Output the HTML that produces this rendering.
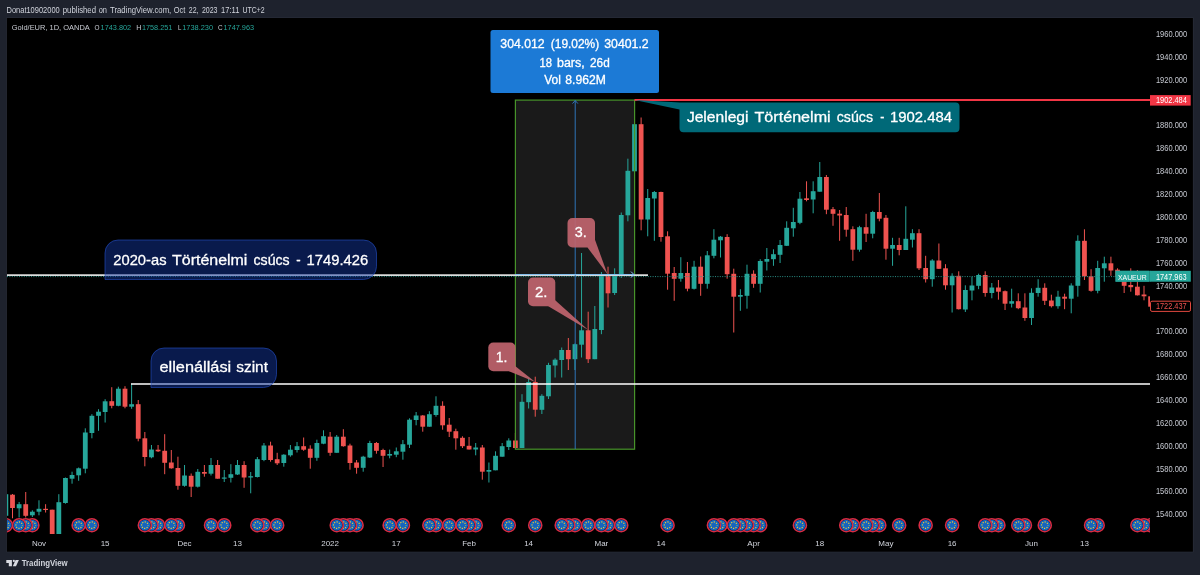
<!DOCTYPE html>
<html lang="hu"><head><meta charset="utf-8"><title>Gold/EUR chart</title>
<style>html,body{margin:0;padding:0;background:#1e222d;}body{width:1200px;height:575px;overflow:hidden;font-family:"Liberation Sans", "DejaVu Sans", sans-serif;}svg{display:block;}text{font-family:"Liberation Sans", "DejaVu Sans", sans-serif;}</style></head><body>
<svg width="1200" height="575" viewBox="0 0 1200 575">
<defs><clipPath id="pane"><rect x="7" y="18" width="1143" height="516"/></clipPath>
</defs>
<rect x="0" y="0" width="1200" height="575" fill="#1e222d"/>
<rect x="6.3" y="17.4" width="1187.2" height="534.9" fill="#2a2e3a"/>
<rect x="6.9" y="18" width="1186" height="533.7" fill="#000"/>
<text y="12.8" font-size="8.6" fill="#d1d4dc"><tspan x="6.50" textLength="53.25" lengthAdjust="spacingAndGlyphs">Donat10902000</tspan> <tspan x="62.75" textLength="33.25" lengthAdjust="spacingAndGlyphs">published</tspan> <tspan x="98.75" textLength="8.25" lengthAdjust="spacingAndGlyphs">on</tspan> <tspan x="110.00" textLength="61.25" lengthAdjust="spacingAndGlyphs">TradingView.com,</tspan> <tspan x="173.75" textLength="11.65" lengthAdjust="spacingAndGlyphs">Oct</tspan> <tspan x="188.75" textLength="9.75" lengthAdjust="spacingAndGlyphs">22,</tspan> <tspan x="201.90" textLength="15.60" lengthAdjust="spacingAndGlyphs">2023</tspan> <tspan x="221.00" textLength="18.40" lengthAdjust="spacingAndGlyphs">17:11</tspan> <tspan x="242.50" textLength="22.25" lengthAdjust="spacingAndGlyphs">UTC+2</tspan></text>
<text x="11.8" y="30.0" font-size="8" fill="#c9ccd3" textLength="78.0" lengthAdjust="spacingAndGlyphs">Gold/EUR, 1D, OANDA</text>
<text x="94.6" y="30.0" font-size="8" fill="#c9ccd3" textLength="5.0" lengthAdjust="spacingAndGlyphs">O</text>
<text x="100.6" y="30.0" font-size="8" fill="#26a69a" textLength="30.6" lengthAdjust="spacingAndGlyphs">1743.802</text>
<text x="136.2" y="30.0" font-size="8" fill="#c9ccd3" textLength="5.2" lengthAdjust="spacingAndGlyphs">H</text>
<text x="141.9" y="30.0" font-size="8" fill="#26a69a" textLength="30.4" lengthAdjust="spacingAndGlyphs">1758.251</text>
<text x="178.1" y="30.0" font-size="8" fill="#c9ccd3" textLength="3.4" lengthAdjust="spacingAndGlyphs">L</text>
<text x="182.2" y="30.0" font-size="8" fill="#26a69a" textLength="30.9" lengthAdjust="spacingAndGlyphs">1738.230</text>
<text x="218.1" y="30.0" font-size="8" fill="#c9ccd3" textLength="4.6" lengthAdjust="spacingAndGlyphs">C</text>
<text x="223.5" y="30.0" font-size="8" fill="#26a69a" textLength="30.6" lengthAdjust="spacingAndGlyphs">1747.963</text>
<g clip-path="url(#pane)">
<rect x="515" y="100" width="119.5" height="349.2" fill="#1a1a1a"/>
<path d="M5.88 494.2V515.8" stroke="#26a69a" stroke-width="1" fill="none"/>
<rect x="3.48" y="494.2" width="4.8" height="21.6" fill="#26a69a"/>
<path d="M12.50 494.0V518.3" stroke="#ef5350" stroke-width="1" fill="none"/>
<rect x="10.10" y="494.7" width="4.8" height="13.3" fill="#ef5350"/>
<path d="M19.12 502.0V517.5" stroke="#26a69a" stroke-width="1" fill="none"/>
<rect x="16.72" y="504.2" width="4.8" height="4.1" fill="#26a69a"/>
<path d="M25.73 492.0V517.5" stroke="#ef5350" stroke-width="1" fill="none"/>
<rect x="23.33" y="504.2" width="4.8" height="11.6" fill="#ef5350"/>
<path d="M32.35 510.3V517.0" stroke="#26a69a" stroke-width="1" fill="none"/>
<rect x="29.95" y="511.7" width="4.8" height="3.6" fill="#26a69a"/>
<path d="M38.97 500.3V515.3" stroke="#26a69a" stroke-width="1" fill="none"/>
<rect x="36.57" y="508.8" width="4.8" height="2.9" fill="#26a69a"/>
<path d="M45.59 504.2V512.5" stroke="#ef5350" stroke-width="1" fill="none"/>
<rect x="43.19" y="508.8" width="4.8" height="1.2" fill="#ef5350"/>
<path d="M52.20 509.7V540.0" stroke="#ef5350" stroke-width="1" fill="none"/>
<rect x="49.80" y="509.7" width="4.8" height="30.3" fill="#ef5350"/>
<path d="M58.82 494.2V540.0" stroke="#26a69a" stroke-width="1" fill="none"/>
<rect x="56.42" y="502.2" width="4.8" height="37.8" fill="#26a69a"/>
<path d="M65.44 477.5V503.7" stroke="#26a69a" stroke-width="1" fill="none"/>
<rect x="63.04" y="478.0" width="4.8" height="25.0" fill="#26a69a"/>
<path d="M72.05 471.7V483.7" stroke="#26a69a" stroke-width="1" fill="none"/>
<rect x="69.65" y="475.0" width="4.8" height="3.7" fill="#26a69a"/>
<path d="M78.67 467.5V480.8" stroke="#26a69a" stroke-width="1" fill="none"/>
<rect x="76.27" y="468.3" width="4.8" height="7.0" fill="#26a69a"/>
<path d="M85.29 428.3V473.3" stroke="#26a69a" stroke-width="1" fill="none"/>
<rect x="82.89" y="432.5" width="4.8" height="36.2" fill="#26a69a"/>
<path d="M91.90 414.2V438.3" stroke="#26a69a" stroke-width="1" fill="none"/>
<rect x="89.50" y="415.8" width="4.8" height="17.2" fill="#26a69a"/>
<path d="M98.52 409.2V430.8" stroke="#26a69a" stroke-width="1" fill="none"/>
<rect x="96.12" y="411.7" width="4.8" height="4.1" fill="#26a69a"/>
<path d="M105.14 399.2V422.5" stroke="#26a69a" stroke-width="1" fill="none"/>
<rect x="102.74" y="401.3" width="4.8" height="10.7" fill="#26a69a"/>
<path d="M111.75 387.2V408.3" stroke="#ef5350" stroke-width="1" fill="none"/>
<rect x="109.35" y="401.2" width="4.8" height="4.6" fill="#ef5350"/>
<path d="M118.37 386.7V406.3" stroke="#26a69a" stroke-width="1" fill="none"/>
<rect x="115.97" y="388.7" width="4.8" height="17.1" fill="#26a69a"/>
<path d="M124.99 386.2V408.3" stroke="#ef5350" stroke-width="1" fill="none"/>
<rect x="122.59" y="388.7" width="4.8" height="18.0" fill="#ef5350"/>
<path d="M131.61 383.7V408.8" stroke="#26a69a" stroke-width="1" fill="none"/>
<rect x="129.21" y="404.2" width="4.8" height="2.5" fill="#26a69a"/>
<path d="M138.22 400.0V441.3" stroke="#ef5350" stroke-width="1" fill="none"/>
<rect x="135.82" y="404.2" width="4.8" height="34.5" fill="#ef5350"/>
<path d="M144.84 432.0V466.3" stroke="#ef5350" stroke-width="1" fill="none"/>
<rect x="142.44" y="438.3" width="4.8" height="18.7" fill="#ef5350"/>
<path d="M151.46 445.0V458.3" stroke="#26a69a" stroke-width="1" fill="none"/>
<rect x="149.06" y="449.5" width="4.8" height="7.8" fill="#26a69a"/>
<path d="M158.07 445.0V452.0" stroke="#ef5350" stroke-width="1" fill="none"/>
<rect x="155.67" y="449.7" width="4.8" height="1.6" fill="#ef5350"/>
<path d="M164.69 434.2V474.2" stroke="#ef5350" stroke-width="1" fill="none"/>
<rect x="162.29" y="450.8" width="4.8" height="12.0" fill="#ef5350"/>
<path d="M171.31 450.0V468.7" stroke="#ef5350" stroke-width="1" fill="none"/>
<rect x="168.91" y="462.5" width="4.8" height="5.8" fill="#ef5350"/>
<path d="M177.93 456.7V489.7" stroke="#ef5350" stroke-width="1" fill="none"/>
<rect x="175.53" y="468.0" width="4.8" height="17.8" fill="#ef5350"/>
<path d="M184.54 465.0V486.7" stroke="#26a69a" stroke-width="1" fill="none"/>
<rect x="182.14" y="475.5" width="4.8" height="10.3" fill="#26a69a"/>
<path d="M191.16 473.5V497.0" stroke="#ef5350" stroke-width="1" fill="none"/>
<rect x="188.76" y="475.8" width="4.8" height="10.9" fill="#ef5350"/>
<path d="M197.78 469.0V487.5" stroke="#26a69a" stroke-width="1" fill="none"/>
<rect x="195.38" y="471.8" width="4.8" height="14.9" fill="#26a69a"/>
<path d="M204.39 465.0V476.7" stroke="#ef5350" stroke-width="1" fill="none"/>
<rect x="201.99" y="472.0" width="4.8" height="1.7" fill="#ef5350"/>
<path d="M211.01 458.0V475.5" stroke="#26a69a" stroke-width="1" fill="none"/>
<rect x="208.61" y="465.0" width="4.8" height="8.7" fill="#26a69a"/>
<path d="M217.63 460.0V478.7" stroke="#ef5350" stroke-width="1" fill="none"/>
<rect x="215.23" y="465.0" width="4.8" height="13.7" fill="#ef5350"/>
<path d="M224.24 470.0V482.0" stroke="#26a69a" stroke-width="1" fill="none"/>
<rect x="221.84" y="477.5" width="4.8" height="1.2" fill="#26a69a"/>
<path d="M230.86 464.2V482.5" stroke="#26a69a" stroke-width="1" fill="none"/>
<rect x="228.46" y="474.2" width="4.8" height="3.6" fill="#26a69a"/>
<path d="M237.48 460.0V475.0" stroke="#26a69a" stroke-width="1" fill="none"/>
<rect x="235.08" y="465.0" width="4.8" height="9.5" fill="#26a69a"/>
<path d="M244.09 461.2V487.8" stroke="#ef5350" stroke-width="1" fill="none"/>
<rect x="241.69" y="465.0" width="4.8" height="12.5" fill="#ef5350"/>
<path d="M250.71 472.0V493.3" stroke="#26a69a" stroke-width="1" fill="none"/>
<rect x="248.31" y="476.2" width="4.8" height="1.3" fill="#26a69a"/>
<path d="M257.33 457.0V477.5" stroke="#26a69a" stroke-width="1" fill="none"/>
<rect x="254.93" y="459.2" width="4.8" height="17.8" fill="#26a69a"/>
<path d="M263.95 443.0V461.2" stroke="#26a69a" stroke-width="1" fill="none"/>
<rect x="261.55" y="445.5" width="4.8" height="14.5" fill="#26a69a"/>
<path d="M270.56 441.7V461.7" stroke="#ef5350" stroke-width="1" fill="none"/>
<rect x="268.16" y="445.5" width="4.8" height="14.5" fill="#ef5350"/>
<path d="M277.18 452.8V465.0" stroke="#ef5350" stroke-width="1" fill="none"/>
<rect x="274.78" y="459.2" width="4.8" height="4.1" fill="#ef5350"/>
<path d="M283.80 454.2V466.7" stroke="#26a69a" stroke-width="1" fill="none"/>
<rect x="281.40" y="454.7" width="4.8" height="8.3" fill="#26a69a"/>
<path d="M290.41 445.0V456.7" stroke="#26a69a" stroke-width="1" fill="none"/>
<rect x="288.01" y="449.7" width="4.8" height="5.6" fill="#26a69a"/>
<path d="M297.03 442.0V452.5" stroke="#26a69a" stroke-width="1" fill="none"/>
<rect x="294.63" y="446.2" width="4.8" height="3.8" fill="#26a69a"/>
<path d="M303.65 437.5V450.8" stroke="#ef5350" stroke-width="1" fill="none"/>
<rect x="301.25" y="446.2" width="4.8" height="3.5" fill="#ef5350"/>
<path d="M310.26 445.3V468.7" stroke="#ef5350" stroke-width="1" fill="none"/>
<rect x="307.87" y="448.7" width="4.8" height="9.1" fill="#ef5350"/>
<path d="M316.88 439.7V460.8" stroke="#26a69a" stroke-width="1" fill="none"/>
<rect x="314.48" y="443.0" width="4.8" height="14.8" fill="#26a69a"/>
<path d="M323.50 430.3V444.2" stroke="#26a69a" stroke-width="1" fill="none"/>
<rect x="321.10" y="436.2" width="4.8" height="7.5" fill="#26a69a"/>
<path d="M330.12 432.0V455.8" stroke="#ef5350" stroke-width="1" fill="none"/>
<rect x="327.72" y="436.7" width="4.8" height="16.1" fill="#ef5350"/>
<path d="M336.73 435.0V452.8" stroke="#26a69a" stroke-width="1" fill="none"/>
<rect x="334.33" y="436.7" width="4.8" height="16.1" fill="#26a69a"/>
<path d="M343.35 429.2V446.7" stroke="#ef5350" stroke-width="1" fill="none"/>
<rect x="340.95" y="436.7" width="4.8" height="9.5" fill="#ef5350"/>
<path d="M349.97 443.7V469.7" stroke="#ef5350" stroke-width="1" fill="none"/>
<rect x="347.57" y="445.5" width="4.8" height="17.5" fill="#ef5350"/>
<path d="M356.58 460.0V473.7" stroke="#ef5350" stroke-width="1" fill="none"/>
<rect x="354.18" y="462.5" width="4.8" height="5.3" fill="#ef5350"/>
<path d="M363.20 455.8V471.7" stroke="#26a69a" stroke-width="1" fill="none"/>
<rect x="360.80" y="456.7" width="4.8" height="11.1" fill="#26a69a"/>
<path d="M369.82 440.8V458.0" stroke="#26a69a" stroke-width="1" fill="none"/>
<rect x="367.42" y="443.0" width="4.8" height="14.5" fill="#26a69a"/>
<path d="M376.44 442.0V453.7" stroke="#ef5350" stroke-width="1" fill="none"/>
<rect x="374.04" y="443.0" width="4.8" height="7.8" fill="#ef5350"/>
<path d="M383.05 448.7V467.0" stroke="#ef5350" stroke-width="1" fill="none"/>
<rect x="380.65" y="450.0" width="4.8" height="5.8" fill="#ef5350"/>
<path d="M389.67 449.6V458.3" stroke="#26a69a" stroke-width="1" fill="none"/>
<rect x="387.27" y="454.0" width="4.8" height="1.6" fill="#26a69a"/>
<path d="M396.29 447.5V457.2" stroke="#26a69a" stroke-width="1" fill="none"/>
<rect x="393.89" y="451.3" width="4.8" height="3.4" fill="#26a69a"/>
<path d="M402.90 440.0V459.7" stroke="#26a69a" stroke-width="1" fill="none"/>
<rect x="400.50" y="444.2" width="4.8" height="7.5" fill="#26a69a"/>
<path d="M409.52 418.3V448.0" stroke="#26a69a" stroke-width="1" fill="none"/>
<rect x="407.12" y="419.7" width="4.8" height="25.0" fill="#26a69a"/>
<path d="M416.14 412.0V425.3" stroke="#26a69a" stroke-width="1" fill="none"/>
<rect x="413.74" y="415.5" width="4.8" height="4.5" fill="#26a69a"/>
<path d="M422.75 415.0V431.7" stroke="#ef5350" stroke-width="1" fill="none"/>
<rect x="420.35" y="415.5" width="4.8" height="11.2" fill="#ef5350"/>
<path d="M429.37 411.2V426.7" stroke="#26a69a" stroke-width="1" fill="none"/>
<rect x="426.97" y="414.2" width="4.8" height="12.5" fill="#26a69a"/>
<path d="M435.99 396.3V416.7" stroke="#26a69a" stroke-width="1" fill="none"/>
<rect x="433.59" y="405.8" width="4.8" height="9.2" fill="#26a69a"/>
<path d="M442.61 401.3V429.7" stroke="#ef5350" stroke-width="1" fill="none"/>
<rect x="440.21" y="405.8" width="4.8" height="19.5" fill="#ef5350"/>
<path d="M449.22 418.0V437.0" stroke="#ef5350" stroke-width="1" fill="none"/>
<rect x="446.82" y="424.7" width="4.8" height="7.0" fill="#ef5350"/>
<path d="M455.84 428.7V449.7" stroke="#ef5350" stroke-width="1" fill="none"/>
<rect x="453.44" y="431.2" width="4.8" height="7.1" fill="#ef5350"/>
<path d="M462.46 436.3V448.0" stroke="#ef5350" stroke-width="1" fill="none"/>
<rect x="460.06" y="437.8" width="4.8" height="8.4" fill="#ef5350"/>
<path d="M469.07 437.0V449.5" stroke="#ef5350" stroke-width="1" fill="none"/>
<rect x="466.67" y="445.8" width="4.8" height="3.7" fill="#ef5350"/>
<path d="M475.69 443.0V455.3" stroke="#26a69a" stroke-width="1" fill="none"/>
<rect x="473.29" y="447.5" width="4.8" height="2.0" fill="#26a69a"/>
<path d="M482.31 445.0V479.7" stroke="#ef5350" stroke-width="1" fill="none"/>
<rect x="479.91" y="447.5" width="4.8" height="24.2" fill="#ef5350"/>
<path d="M488.92 462.5V482.5" stroke="#26a69a" stroke-width="1" fill="none"/>
<rect x="486.52" y="470.0" width="4.8" height="1.7" fill="#26a69a"/>
<path d="M495.54 451.3V470.3" stroke="#26a69a" stroke-width="1" fill="none"/>
<rect x="493.14" y="455.8" width="4.8" height="14.5" fill="#26a69a"/>
<path d="M502.16 443.0V456.7" stroke="#26a69a" stroke-width="1" fill="none"/>
<rect x="499.76" y="446.2" width="4.8" height="10.5" fill="#26a69a"/>
<path d="M508.77 438.3V450.0" stroke="#26a69a" stroke-width="1" fill="none"/>
<rect x="506.38" y="440.5" width="4.8" height="6.5" fill="#26a69a"/>
<path d="M515.39 433.0V448.0" stroke="#ef5350" stroke-width="1" fill="none"/>
<rect x="512.99" y="440.5" width="4.8" height="7.5" fill="#ef5350"/>
<path d="M522.01 394.2V448.0" stroke="#26a69a" stroke-width="1" fill="none"/>
<rect x="519.61" y="401.8" width="4.8" height="46.2" fill="#26a69a"/>
<path d="M528.63 378.7V408.5" stroke="#26a69a" stroke-width="1" fill="none"/>
<rect x="526.23" y="382.0" width="4.8" height="20.2" fill="#26a69a"/>
<path d="M535.24 376.7V416.7" stroke="#ef5350" stroke-width="1" fill="none"/>
<rect x="532.84" y="382.0" width="4.8" height="27.7" fill="#ef5350"/>
<path d="M541.86 394.2V414.0" stroke="#26a69a" stroke-width="1" fill="none"/>
<rect x="539.46" y="395.8" width="4.8" height="14.0" fill="#26a69a"/>
<path d="M548.48 362.8V399.0" stroke="#26a69a" stroke-width="1" fill="none"/>
<rect x="546.08" y="365.0" width="4.8" height="31.3" fill="#26a69a"/>
<path d="M555.09 358.3V377.5" stroke="#26a69a" stroke-width="1" fill="none"/>
<rect x="552.69" y="359.7" width="4.8" height="5.8" fill="#26a69a"/>
<path d="M561.71 347.5V377.5" stroke="#26a69a" stroke-width="1" fill="none"/>
<rect x="559.31" y="350.0" width="4.8" height="10.0" fill="#26a69a"/>
<path d="M568.33 338.0V370.0" stroke="#ef5350" stroke-width="1" fill="none"/>
<rect x="565.93" y="350.0" width="4.8" height="9.2" fill="#ef5350"/>
<path d="M574.95 343.5V370.0" stroke="#26a69a" stroke-width="1" fill="none"/>
<rect x="572.55" y="344.2" width="4.8" height="15.0" fill="#26a69a"/>
<path d="M581.56 253.0V357.5" stroke="#26a69a" stroke-width="1" fill="none"/>
<rect x="579.16" y="330.3" width="4.8" height="14.4" fill="#26a69a"/>
<path d="M588.18 311.7V363.0" stroke="#ef5350" stroke-width="1" fill="none"/>
<rect x="585.78" y="330.3" width="4.8" height="28.9" fill="#ef5350"/>
<path d="M594.80 306.0V359.2" stroke="#26a69a" stroke-width="1" fill="none"/>
<rect x="592.40" y="329.0" width="4.8" height="30.2" fill="#26a69a"/>
<path d="M601.41 272.0V334.2" stroke="#26a69a" stroke-width="1" fill="none"/>
<rect x="599.01" y="274.7" width="4.8" height="55.3" fill="#26a69a"/>
<path d="M608.03 266.7V307.5" stroke="#ef5350" stroke-width="1" fill="none"/>
<rect x="605.63" y="275.0" width="4.8" height="18.3" fill="#ef5350"/>
<path d="M614.65 268.3V295.0" stroke="#26a69a" stroke-width="1" fill="none"/>
<rect x="612.25" y="274.2" width="4.8" height="18.8" fill="#26a69a"/>
<path d="M621.26 212.5V278.0" stroke="#26a69a" stroke-width="1" fill="none"/>
<rect x="618.86" y="215.0" width="4.8" height="59.0" fill="#26a69a"/>
<path d="M627.88 158.7V221.3" stroke="#26a69a" stroke-width="1" fill="none"/>
<rect x="625.48" y="170.8" width="4.8" height="44.5" fill="#26a69a"/>
<path d="M634.50 100.0V172.0" stroke="#26a69a" stroke-width="1" fill="none"/>
<rect x="632.10" y="124.2" width="4.8" height="47.1" fill="#26a69a"/>
<path d="M641.12 117.5V230.3" stroke="#ef5350" stroke-width="1" fill="none"/>
<rect x="638.72" y="124.2" width="4.8" height="95.3" fill="#ef5350"/>
<path d="M647.73 189.0V236.3" stroke="#26a69a" stroke-width="1" fill="none"/>
<rect x="645.33" y="198.0" width="4.8" height="21.5" fill="#26a69a"/>
<path d="M654.35 191.0V240.8" stroke="#26a69a" stroke-width="1" fill="none"/>
<rect x="651.95" y="192.0" width="4.8" height="6.5" fill="#26a69a"/>
<path d="M660.97 191.7V241.7" stroke="#ef5350" stroke-width="1" fill="none"/>
<rect x="658.57" y="192.0" width="4.8" height="45.0" fill="#ef5350"/>
<path d="M667.58 231.3V289.7" stroke="#ef5350" stroke-width="1" fill="none"/>
<rect x="665.18" y="236.3" width="4.8" height="37.4" fill="#ef5350"/>
<path d="M674.20 267.0V300.8" stroke="#ef5350" stroke-width="1" fill="none"/>
<rect x="671.80" y="273.0" width="4.8" height="5.8" fill="#ef5350"/>
<path d="M680.82 257.2V281.7" stroke="#26a69a" stroke-width="1" fill="none"/>
<rect x="678.42" y="273.0" width="4.8" height="5.7" fill="#26a69a"/>
<path d="M687.43 262.0V291.3" stroke="#ef5350" stroke-width="1" fill="none"/>
<rect x="685.03" y="273.0" width="4.8" height="15.7" fill="#ef5350"/>
<path d="M694.05 260.8V289.5" stroke="#26a69a" stroke-width="1" fill="none"/>
<rect x="691.65" y="266.7" width="4.8" height="22.1" fill="#26a69a"/>
<path d="M700.67 256.5V295.8" stroke="#ef5350" stroke-width="1" fill="none"/>
<rect x="698.27" y="266.7" width="4.8" height="17.1" fill="#ef5350"/>
<path d="M707.28 251.0V288.7" stroke="#26a69a" stroke-width="1" fill="none"/>
<rect x="704.88" y="255.3" width="4.8" height="28.5" fill="#26a69a"/>
<path d="M713.90 229.2V258.3" stroke="#26a69a" stroke-width="1" fill="none"/>
<rect x="711.50" y="239.7" width="4.8" height="16.1" fill="#26a69a"/>
<path d="M720.52 236.0V257.5" stroke="#26a69a" stroke-width="1" fill="none"/>
<rect x="718.12" y="236.7" width="4.8" height="3.6" fill="#26a69a"/>
<path d="M727.14 234.2V278.7" stroke="#ef5350" stroke-width="1" fill="none"/>
<rect x="724.74" y="237.0" width="4.8" height="37.2" fill="#ef5350"/>
<path d="M733.75 268.7V332.5" stroke="#ef5350" stroke-width="1" fill="none"/>
<rect x="731.35" y="273.8" width="4.8" height="22.9" fill="#ef5350"/>
<path d="M740.37 289.2V310.8" stroke="#26a69a" stroke-width="1" fill="none"/>
<rect x="737.97" y="295.0" width="4.8" height="1.7" fill="#26a69a"/>
<path d="M746.99 264.7V308.7" stroke="#26a69a" stroke-width="1" fill="none"/>
<rect x="744.59" y="273.8" width="4.8" height="22.0" fill="#26a69a"/>
<path d="M753.60 270.3V287.8" stroke="#ef5350" stroke-width="1" fill="none"/>
<rect x="751.20" y="273.8" width="4.8" height="10.0" fill="#ef5350"/>
<path d="M760.22 259.2V292.5" stroke="#26a69a" stroke-width="1" fill="none"/>
<rect x="757.82" y="261.0" width="4.8" height="22.8" fill="#26a69a"/>
<path d="M766.84 248.0V270.5" stroke="#26a69a" stroke-width="1" fill="none"/>
<rect x="764.44" y="259.0" width="4.8" height="2.7" fill="#26a69a"/>
<path d="M773.46 249.3V265.8" stroke="#26a69a" stroke-width="1" fill="none"/>
<rect x="771.06" y="254.2" width="4.8" height="5.0" fill="#26a69a"/>
<path d="M780.07 240.0V263.0" stroke="#26a69a" stroke-width="1" fill="none"/>
<rect x="777.67" y="245.0" width="4.8" height="9.8" fill="#26a69a"/>
<path d="M786.69 221.3V246.0" stroke="#26a69a" stroke-width="1" fill="none"/>
<rect x="784.29" y="227.8" width="4.8" height="18.0" fill="#26a69a"/>
<path d="M793.31 207.8V236.7" stroke="#26a69a" stroke-width="1" fill="none"/>
<rect x="790.91" y="222.0" width="4.8" height="6.3" fill="#26a69a"/>
<path d="M799.92 192.0V224.2" stroke="#26a69a" stroke-width="1" fill="none"/>
<rect x="797.52" y="198.7" width="4.8" height="24.1" fill="#26a69a"/>
<path d="M806.54 181.3V201.3" stroke="#ef5350" stroke-width="1" fill="none"/>
<rect x="804.14" y="198.3" width="4.8" height="1.7" fill="#ef5350"/>
<path d="M813.16 181.3V213.3" stroke="#26a69a" stroke-width="1" fill="none"/>
<rect x="810.76" y="191.2" width="4.8" height="8.3" fill="#26a69a"/>
<path d="M819.77 162.0V191.7" stroke="#26a69a" stroke-width="1" fill="none"/>
<rect x="817.37" y="177.0" width="4.8" height="14.7" fill="#26a69a"/>
<path d="M826.39 175.0V214.2" stroke="#ef5350" stroke-width="1" fill="none"/>
<rect x="823.99" y="177.0" width="4.8" height="32.7" fill="#ef5350"/>
<path d="M833.01 207.0V225.8" stroke="#ef5350" stroke-width="1" fill="none"/>
<rect x="830.61" y="209.2" width="4.8" height="4.6" fill="#ef5350"/>
<path d="M839.62 210.0V240.8" stroke="#ef5350" stroke-width="1" fill="none"/>
<rect x="837.23" y="213.7" width="4.8" height="1.8" fill="#ef5350"/>
<path d="M846.24 207.0V236.7" stroke="#ef5350" stroke-width="1" fill="none"/>
<rect x="843.84" y="215.0" width="4.8" height="14.7" fill="#ef5350"/>
<path d="M852.86 226.3V260.8" stroke="#ef5350" stroke-width="1" fill="none"/>
<rect x="850.46" y="229.2" width="4.8" height="20.5" fill="#ef5350"/>
<path d="M859.48 225.8V251.7" stroke="#26a69a" stroke-width="1" fill="none"/>
<rect x="857.08" y="227.2" width="4.8" height="22.5" fill="#26a69a"/>
<path d="M866.09 213.8V242.0" stroke="#ef5350" stroke-width="1" fill="none"/>
<rect x="863.69" y="227.2" width="4.8" height="6.5" fill="#ef5350"/>
<path d="M872.71 210.8V238.3" stroke="#26a69a" stroke-width="1" fill="none"/>
<rect x="870.31" y="212.0" width="4.8" height="21.7" fill="#26a69a"/>
<path d="M879.33 193.0V221.3" stroke="#ef5350" stroke-width="1" fill="none"/>
<rect x="876.93" y="212.0" width="4.8" height="6.7" fill="#ef5350"/>
<path d="M885.94 215.0V259.7" stroke="#ef5350" stroke-width="1" fill="none"/>
<rect x="883.54" y="217.8" width="4.8" height="30.9" fill="#ef5350"/>
<path d="M892.56 237.8V265.8" stroke="#26a69a" stroke-width="1" fill="none"/>
<rect x="890.16" y="245.0" width="4.8" height="3.7" fill="#26a69a"/>
<path d="M899.18 237.8V255.3" stroke="#ef5350" stroke-width="1" fill="none"/>
<rect x="896.78" y="245.0" width="4.8" height="5.0" fill="#ef5350"/>
<path d="M905.79 206.3V250.0" stroke="#26a69a" stroke-width="1" fill="none"/>
<rect x="903.39" y="238.8" width="4.8" height="11.2" fill="#26a69a"/>
<path d="M912.41 229.2V247.5" stroke="#26a69a" stroke-width="1" fill="none"/>
<rect x="910.01" y="233.2" width="4.8" height="6.5" fill="#26a69a"/>
<path d="M919.03 229.2V270.0" stroke="#ef5350" stroke-width="1" fill="none"/>
<rect x="916.63" y="233.2" width="4.8" height="35.1" fill="#ef5350"/>
<path d="M925.65 255.8V282.5" stroke="#ef5350" stroke-width="1" fill="none"/>
<rect x="923.25" y="268.0" width="4.8" height="11.2" fill="#ef5350"/>
<path d="M932.26 259.2V286.7" stroke="#26a69a" stroke-width="1" fill="none"/>
<rect x="929.86" y="260.5" width="4.8" height="18.7" fill="#26a69a"/>
<path d="M938.88 243.5V269.0" stroke="#ef5350" stroke-width="1" fill="none"/>
<rect x="936.48" y="260.5" width="4.8" height="8.3" fill="#ef5350"/>
<path d="M945.50 264.2V289.7" stroke="#ef5350" stroke-width="1" fill="none"/>
<rect x="943.10" y="268.3" width="4.8" height="17.0" fill="#ef5350"/>
<path d="M952.11 273.3V312.5" stroke="#26a69a" stroke-width="1" fill="none"/>
<rect x="949.71" y="275.8" width="4.8" height="9.5" fill="#26a69a"/>
<path d="M958.73 271.3V309.5" stroke="#ef5350" stroke-width="1" fill="none"/>
<rect x="956.33" y="275.8" width="4.8" height="33.4" fill="#ef5350"/>
<path d="M965.35 285.3V312.0" stroke="#26a69a" stroke-width="1" fill="none"/>
<rect x="962.95" y="290.0" width="4.8" height="19.5" fill="#26a69a"/>
<path d="M971.97 276.7V300.3" stroke="#26a69a" stroke-width="1" fill="none"/>
<rect x="969.57" y="285.5" width="4.8" height="5.0" fill="#26a69a"/>
<path d="M978.58 273.7V289.2" stroke="#26a69a" stroke-width="1" fill="none"/>
<rect x="976.18" y="275.0" width="4.8" height="10.8" fill="#26a69a"/>
<path d="M985.20 271.3V296.7" stroke="#ef5350" stroke-width="1" fill="none"/>
<rect x="982.80" y="275.0" width="4.8" height="18.0" fill="#ef5350"/>
<path d="M991.82 283.0V298.3" stroke="#26a69a" stroke-width="1" fill="none"/>
<rect x="989.42" y="287.5" width="4.8" height="5.5" fill="#26a69a"/>
<path d="M998.43 280.0V299.7" stroke="#ef5350" stroke-width="1" fill="none"/>
<rect x="996.03" y="287.5" width="4.8" height="4.2" fill="#ef5350"/>
<path d="M1005.05 290.5V310.0" stroke="#ef5350" stroke-width="1" fill="none"/>
<rect x="1002.65" y="291.2" width="4.8" height="12.5" fill="#ef5350"/>
<path d="M1011.67 288.7V307.5" stroke="#26a69a" stroke-width="1" fill="none"/>
<rect x="1009.27" y="301.2" width="4.8" height="2.5" fill="#26a69a"/>
<path d="M1018.28 293.3V309.2" stroke="#ef5350" stroke-width="1" fill="none"/>
<rect x="1015.88" y="301.2" width="4.8" height="7.0" fill="#ef5350"/>
<path d="M1024.90 293.3V320.8" stroke="#ef5350" stroke-width="1" fill="none"/>
<rect x="1022.50" y="307.5" width="4.8" height="10.5" fill="#ef5350"/>
<path d="M1031.52 288.3V325.0" stroke="#26a69a" stroke-width="1" fill="none"/>
<rect x="1029.12" y="292.8" width="4.8" height="25.2" fill="#26a69a"/>
<path d="M1038.13 279.2V296.7" stroke="#26a69a" stroke-width="1" fill="none"/>
<rect x="1035.73" y="287.8" width="4.8" height="5.2" fill="#26a69a"/>
<path d="M1044.75 283.3V305.0" stroke="#ef5350" stroke-width="1" fill="none"/>
<rect x="1042.35" y="287.8" width="4.8" height="13.0" fill="#ef5350"/>
<path d="M1051.37 294.7V307.5" stroke="#ef5350" stroke-width="1" fill="none"/>
<rect x="1048.97" y="300.5" width="4.8" height="5.7" fill="#ef5350"/>
<path d="M1057.99 290.8V308.7" stroke="#26a69a" stroke-width="1" fill="none"/>
<rect x="1055.59" y="296.7" width="4.8" height="9.5" fill="#26a69a"/>
<path d="M1064.60 293.7V309.2" stroke="#ef5350" stroke-width="1" fill="none"/>
<rect x="1062.20" y="296.7" width="4.8" height="2.0" fill="#ef5350"/>
<path d="M1071.22 283.3V313.3" stroke="#26a69a" stroke-width="1" fill="none"/>
<rect x="1068.82" y="285.5" width="4.8" height="13.2" fill="#26a69a"/>
<path d="M1077.84 235.3V296.7" stroke="#26a69a" stroke-width="1" fill="none"/>
<rect x="1075.44" y="240.8" width="4.8" height="45.0" fill="#26a69a"/>
<path d="M1084.45 229.3V280.0" stroke="#ef5350" stroke-width="1" fill="none"/>
<rect x="1082.05" y="240.8" width="4.8" height="35.5" fill="#ef5350"/>
<path d="M1091.07 269.2V291.7" stroke="#ef5350" stroke-width="1" fill="none"/>
<rect x="1088.67" y="276.3" width="4.8" height="14.5" fill="#ef5350"/>
<path d="M1097.69 260.8V293.3" stroke="#26a69a" stroke-width="1" fill="none"/>
<rect x="1095.29" y="268.0" width="4.8" height="22.8" fill="#26a69a"/>
<path d="M1104.31 256.7V281.7" stroke="#26a69a" stroke-width="1" fill="none"/>
<rect x="1101.90" y="263.3" width="4.8" height="5.0" fill="#26a69a"/>
<path d="M1110.92 256.7V275.8" stroke="#ef5350" stroke-width="1" fill="none"/>
<rect x="1108.52" y="263.3" width="4.8" height="7.2" fill="#ef5350"/>
<path d="M1117.54 268.3V279.0" stroke="#ef5350" stroke-width="1" fill="none"/>
<rect x="1115.14" y="269.7" width="4.8" height="7.3" fill="#ef5350"/>
<path d="M1124.16 276.0V293.0" stroke="#ef5350" stroke-width="1" fill="none"/>
<rect x="1121.76" y="277.0" width="4.8" height="8.8" fill="#ef5350"/>
<path d="M1130.77 268.3V291.7" stroke="#ef5350" stroke-width="1" fill="none"/>
<rect x="1128.37" y="285.0" width="4.8" height="2.2" fill="#ef5350"/>
<path d="M1137.39 270.0V295.5" stroke="#ef5350" stroke-width="1" fill="none"/>
<rect x="1134.99" y="286.7" width="4.8" height="8.6" fill="#ef5350"/>
<path d="M1144.01 285.8V300.3" stroke="#ef5350" stroke-width="1" fill="none"/>
<rect x="1141.61" y="294.5" width="4.8" height="1.8" fill="#ef5350"/>
<path d="M1150.62 296.0V307.0" stroke="#ef5350" stroke-width="1" fill="none"/>
<rect x="1148.22" y="296.3" width="4.8" height="10.4" fill="#ef5350"/>
<rect x="515.4" y="100.1" width="119.2" height="349.1" fill="none" stroke="#47932a" stroke-width="1.2"/>
<line x1="7" y1="276.6" x2="1150" y2="276.6" stroke="#2a8f86" stroke-width="1" stroke-dasharray="1 1.4"/>
<line x1="7" y1="275.1" x2="648" y2="275.1" stroke="#dcdcdc" stroke-width="1.7"/>
<line x1="131" y1="384" x2="1150" y2="384" stroke="#ffffff" stroke-width="1.6"/>
<line x1="634.5" y1="100" x2="1150" y2="100" stroke="#f23645" stroke-width="1.8"/>
<path d="M575.2 449V100.5M572.5 103.6L575.2 100.5L577.9 103.6" stroke="#2f74b8" stroke-width="1" fill="none"/>
<path d="M515 274.6H634M631 271.6L634 274.6L631 277.6" stroke="#7fc0f2" stroke-width="1" fill="none"/>
<circle cx="1150.62" cy="525.2" r="6.5" fill="#000" stroke="#d92c44" stroke-width="1.6"/><circle cx="1150.62" cy="525.2" r="5.5" fill="#1565c0"/><circle cx="1150.62" cy="525.2" r="3.25" fill="none" stroke="#f3d02f" stroke-width="1.2" stroke-dasharray="1.15 1.4025" stroke-dashoffset="0.57"/>
<circle cx="1144.01" cy="525.2" r="6.5" fill="#000" stroke="#d92c44" stroke-width="1.6"/><circle cx="1144.01" cy="525.2" r="5.5" fill="#1565c0"/><circle cx="1144.01" cy="525.2" r="3.25" fill="none" stroke="#f3d02f" stroke-width="1.2" stroke-dasharray="1.15 1.4025" stroke-dashoffset="0.57"/>
<circle cx="1137.39" cy="525.2" r="6.5" fill="#000" stroke="#d92c44" stroke-width="1.6"/><circle cx="1137.39" cy="525.2" r="5.5" fill="#1565c0"/><circle cx="1137.39" cy="525.2" r="3.25" fill="none" stroke="#f3d02f" stroke-width="1.2" stroke-dasharray="1.15 1.4025" stroke-dashoffset="0.57"/>
<circle cx="1097.69" cy="525.2" r="6.5" fill="#000" stroke="#d92c44" stroke-width="1.6"/><circle cx="1097.69" cy="525.2" r="5.5" fill="#1565c0"/><circle cx="1097.69" cy="525.2" r="3.25" fill="none" stroke="#f3d02f" stroke-width="1.2" stroke-dasharray="1.15 1.4025" stroke-dashoffset="0.57"/>
<circle cx="1091.07" cy="525.2" r="6.5" fill="#000" stroke="#d92c44" stroke-width="1.6"/><circle cx="1091.07" cy="525.2" r="5.5" fill="#1565c0"/><circle cx="1091.07" cy="525.2" r="3.25" fill="none" stroke="#f3d02f" stroke-width="1.2" stroke-dasharray="1.15 1.4025" stroke-dashoffset="0.57"/>
<circle cx="1044.75" cy="525.2" r="6.5" fill="#000" stroke="#d92c44" stroke-width="1.6"/><circle cx="1044.75" cy="525.2" r="5.5" fill="#1565c0"/><circle cx="1044.75" cy="525.2" r="3.25" fill="none" stroke="#f3d02f" stroke-width="1.2" stroke-dasharray="1.15 1.4025" stroke-dashoffset="0.57"/>
<circle cx="1024.90" cy="525.2" r="6.5" fill="#000" stroke="#d92c44" stroke-width="1.6"/><circle cx="1024.90" cy="525.2" r="5.5" fill="#1565c0"/><circle cx="1024.90" cy="525.2" r="3.25" fill="none" stroke="#f3d02f" stroke-width="1.2" stroke-dasharray="1.15 1.4025" stroke-dashoffset="0.57"/>
<circle cx="1018.28" cy="525.2" r="6.5" fill="#000" stroke="#d92c44" stroke-width="1.6"/><circle cx="1018.28" cy="525.2" r="5.5" fill="#1565c0"/><circle cx="1018.28" cy="525.2" r="3.25" fill="none" stroke="#f3d02f" stroke-width="1.2" stroke-dasharray="1.15 1.4025" stroke-dashoffset="0.57"/>
<circle cx="998.43" cy="525.2" r="6.5" fill="#000" stroke="#d92c44" stroke-width="1.6"/><circle cx="998.43" cy="525.2" r="5.5" fill="#1565c0"/><circle cx="998.43" cy="525.2" r="3.25" fill="none" stroke="#f3d02f" stroke-width="1.2" stroke-dasharray="1.15 1.4025" stroke-dashoffset="0.57"/>
<circle cx="991.82" cy="525.2" r="6.5" fill="#000" stroke="#d92c44" stroke-width="1.6"/><circle cx="991.82" cy="525.2" r="5.5" fill="#1565c0"/><circle cx="991.82" cy="525.2" r="3.25" fill="none" stroke="#f3d02f" stroke-width="1.2" stroke-dasharray="1.15 1.4025" stroke-dashoffset="0.57"/>
<circle cx="985.20" cy="525.2" r="6.5" fill="#000" stroke="#d92c44" stroke-width="1.6"/><circle cx="985.20" cy="525.2" r="5.5" fill="#1565c0"/><circle cx="985.20" cy="525.2" r="3.25" fill="none" stroke="#f3d02f" stroke-width="1.2" stroke-dasharray="1.15 1.4025" stroke-dashoffset="0.57"/>
<circle cx="952.11" cy="525.2" r="6.5" fill="#000" stroke="#d92c44" stroke-width="1.6"/><circle cx="952.11" cy="525.2" r="5.5" fill="#1565c0"/><circle cx="952.11" cy="525.2" r="3.25" fill="none" stroke="#f3d02f" stroke-width="1.2" stroke-dasharray="1.15 1.4025" stroke-dashoffset="0.57"/>
<circle cx="925.65" cy="525.2" r="6.5" fill="#000" stroke="#d92c44" stroke-width="1.6"/><circle cx="925.65" cy="525.2" r="5.5" fill="#1565c0"/><circle cx="925.65" cy="525.2" r="3.25" fill="none" stroke="#f3d02f" stroke-width="1.2" stroke-dasharray="1.15 1.4025" stroke-dashoffset="0.57"/>
<circle cx="899.18" cy="525.2" r="6.5" fill="#000" stroke="#d92c44" stroke-width="1.6"/><circle cx="899.18" cy="525.2" r="5.5" fill="#1565c0"/><circle cx="899.18" cy="525.2" r="3.25" fill="none" stroke="#f3d02f" stroke-width="1.2" stroke-dasharray="1.15 1.4025" stroke-dashoffset="0.57"/>
<circle cx="879.33" cy="525.2" r="6.5" fill="#000" stroke="#d92c44" stroke-width="1.6"/><circle cx="879.33" cy="525.2" r="5.5" fill="#1565c0"/><circle cx="879.33" cy="525.2" r="3.25" fill="none" stroke="#f3d02f" stroke-width="1.2" stroke-dasharray="1.15 1.4025" stroke-dashoffset="0.57"/>
<circle cx="872.71" cy="525.2" r="6.5" fill="#000" stroke="#d92c44" stroke-width="1.6"/><circle cx="872.71" cy="525.2" r="5.5" fill="#1565c0"/><circle cx="872.71" cy="525.2" r="3.25" fill="none" stroke="#f3d02f" stroke-width="1.2" stroke-dasharray="1.15 1.4025" stroke-dashoffset="0.57"/>
<circle cx="866.09" cy="525.2" r="6.5" fill="#000" stroke="#d92c44" stroke-width="1.6"/><circle cx="866.09" cy="525.2" r="5.5" fill="#1565c0"/><circle cx="866.09" cy="525.2" r="3.25" fill="none" stroke="#f3d02f" stroke-width="1.2" stroke-dasharray="1.15 1.4025" stroke-dashoffset="0.57"/>
<circle cx="852.86" cy="525.2" r="6.5" fill="#000" stroke="#d92c44" stroke-width="1.6"/><circle cx="852.86" cy="525.2" r="5.5" fill="#1565c0"/><circle cx="852.86" cy="525.2" r="3.25" fill="none" stroke="#f3d02f" stroke-width="1.2" stroke-dasharray="1.15 1.4025" stroke-dashoffset="0.57"/>
<circle cx="846.24" cy="525.2" r="6.5" fill="#000" stroke="#d92c44" stroke-width="1.6"/><circle cx="846.24" cy="525.2" r="5.5" fill="#1565c0"/><circle cx="846.24" cy="525.2" r="3.25" fill="none" stroke="#f3d02f" stroke-width="1.2" stroke-dasharray="1.15 1.4025" stroke-dashoffset="0.57"/>
<circle cx="799.92" cy="525.2" r="6.5" fill="#000" stroke="#d92c44" stroke-width="1.6"/><circle cx="799.92" cy="525.2" r="5.5" fill="#1565c0"/><circle cx="799.92" cy="525.2" r="3.25" fill="none" stroke="#f3d02f" stroke-width="1.2" stroke-dasharray="1.15 1.4025" stroke-dashoffset="0.57"/>
<circle cx="760.22" cy="525.2" r="6.5" fill="#000" stroke="#d92c44" stroke-width="1.6"/><circle cx="760.22" cy="525.2" r="5.5" fill="#1565c0"/><circle cx="760.22" cy="525.2" r="3.25" fill="none" stroke="#f3d02f" stroke-width="1.2" stroke-dasharray="1.15 1.4025" stroke-dashoffset="0.57"/>
<circle cx="753.60" cy="525.2" r="6.5" fill="#000" stroke="#d92c44" stroke-width="1.6"/><circle cx="753.60" cy="525.2" r="5.5" fill="#1565c0"/><circle cx="753.60" cy="525.2" r="3.25" fill="none" stroke="#f3d02f" stroke-width="1.2" stroke-dasharray="1.15 1.4025" stroke-dashoffset="0.57"/>
<circle cx="746.99" cy="525.2" r="6.5" fill="#000" stroke="#d92c44" stroke-width="1.6"/><circle cx="746.99" cy="525.2" r="5.5" fill="#1565c0"/><circle cx="746.99" cy="525.2" r="3.25" fill="none" stroke="#f3d02f" stroke-width="1.2" stroke-dasharray="1.15 1.4025" stroke-dashoffset="0.57"/>
<circle cx="740.37" cy="525.2" r="6.5" fill="#000" stroke="#d92c44" stroke-width="1.6"/><circle cx="740.37" cy="525.2" r="5.5" fill="#1565c0"/><circle cx="740.37" cy="525.2" r="3.25" fill="none" stroke="#f3d02f" stroke-width="1.2" stroke-dasharray="1.15 1.4025" stroke-dashoffset="0.57"/>
<circle cx="733.75" cy="525.2" r="6.5" fill="#000" stroke="#d92c44" stroke-width="1.6"/><circle cx="733.75" cy="525.2" r="5.5" fill="#1565c0"/><circle cx="733.75" cy="525.2" r="3.25" fill="none" stroke="#f3d02f" stroke-width="1.2" stroke-dasharray="1.15 1.4025" stroke-dashoffset="0.57"/>
<circle cx="720.52" cy="525.2" r="6.5" fill="#000" stroke="#d92c44" stroke-width="1.6"/><circle cx="720.52" cy="525.2" r="5.5" fill="#1565c0"/><circle cx="720.52" cy="525.2" r="3.25" fill="none" stroke="#f3d02f" stroke-width="1.2" stroke-dasharray="1.15 1.4025" stroke-dashoffset="0.57"/>
<circle cx="713.90" cy="525.2" r="6.5" fill="#000" stroke="#d92c44" stroke-width="1.6"/><circle cx="713.90" cy="525.2" r="5.5" fill="#1565c0"/><circle cx="713.90" cy="525.2" r="3.25" fill="none" stroke="#f3d02f" stroke-width="1.2" stroke-dasharray="1.15 1.4025" stroke-dashoffset="0.57"/>
<circle cx="667.58" cy="525.2" r="6.5" fill="#000" stroke="#d92c44" stroke-width="1.6"/><circle cx="667.58" cy="525.2" r="5.5" fill="#1565c0"/><circle cx="667.58" cy="525.2" r="3.25" fill="none" stroke="#f3d02f" stroke-width="1.2" stroke-dasharray="1.15 1.4025" stroke-dashoffset="0.57"/>
<circle cx="621.26" cy="525.2" r="6.5" fill="#000" stroke="#d92c44" stroke-width="1.6"/><circle cx="621.26" cy="525.2" r="5.5" fill="#1565c0"/><circle cx="621.26" cy="525.2" r="3.25" fill="none" stroke="#f3d02f" stroke-width="1.2" stroke-dasharray="1.15 1.4025" stroke-dashoffset="0.57"/>
<circle cx="608.03" cy="525.2" r="6.5" fill="#000" stroke="#d92c44" stroke-width="1.6"/><circle cx="608.03" cy="525.2" r="5.5" fill="#1565c0"/><circle cx="608.03" cy="525.2" r="3.25" fill="none" stroke="#f3d02f" stroke-width="1.2" stroke-dasharray="1.15 1.4025" stroke-dashoffset="0.57"/>
<circle cx="601.41" cy="525.2" r="6.5" fill="#000" stroke="#d92c44" stroke-width="1.6"/><circle cx="601.41" cy="525.2" r="5.5" fill="#1565c0"/><circle cx="601.41" cy="525.2" r="3.25" fill="none" stroke="#f3d02f" stroke-width="1.2" stroke-dasharray="1.15 1.4025" stroke-dashoffset="0.57"/>
<circle cx="588.18" cy="525.2" r="6.5" fill="#000" stroke="#d92c44" stroke-width="1.6"/><circle cx="588.18" cy="525.2" r="5.5" fill="#1565c0"/><circle cx="588.18" cy="525.2" r="3.25" fill="none" stroke="#f3d02f" stroke-width="1.2" stroke-dasharray="1.15 1.4025" stroke-dashoffset="0.57"/>
<circle cx="574.95" cy="525.2" r="6.5" fill="#000" stroke="#d92c44" stroke-width="1.6"/><circle cx="574.95" cy="525.2" r="5.5" fill="#1565c0"/><circle cx="574.95" cy="525.2" r="3.25" fill="none" stroke="#f3d02f" stroke-width="1.2" stroke-dasharray="1.15 1.4025" stroke-dashoffset="0.57"/>
<circle cx="568.33" cy="525.2" r="6.5" fill="#000" stroke="#d92c44" stroke-width="1.6"/><circle cx="568.33" cy="525.2" r="5.5" fill="#1565c0"/><circle cx="568.33" cy="525.2" r="3.25" fill="none" stroke="#f3d02f" stroke-width="1.2" stroke-dasharray="1.15 1.4025" stroke-dashoffset="0.57"/>
<circle cx="561.71" cy="525.2" r="6.5" fill="#000" stroke="#d92c44" stroke-width="1.6"/><circle cx="561.71" cy="525.2" r="5.5" fill="#1565c0"/><circle cx="561.71" cy="525.2" r="3.25" fill="none" stroke="#f3d02f" stroke-width="1.2" stroke-dasharray="1.15 1.4025" stroke-dashoffset="0.57"/>
<circle cx="535.24" cy="525.2" r="6.5" fill="#000" stroke="#d92c44" stroke-width="1.6"/><circle cx="535.24" cy="525.2" r="5.5" fill="#1565c0"/><circle cx="535.24" cy="525.2" r="3.25" fill="none" stroke="#f3d02f" stroke-width="1.2" stroke-dasharray="1.15 1.4025" stroke-dashoffset="0.57"/>
<circle cx="508.77" cy="525.2" r="6.5" fill="#000" stroke="#d92c44" stroke-width="1.6"/><circle cx="508.77" cy="525.2" r="5.5" fill="#1565c0"/><circle cx="508.77" cy="525.2" r="3.25" fill="none" stroke="#f3d02f" stroke-width="1.2" stroke-dasharray="1.15 1.4025" stroke-dashoffset="0.57"/>
<circle cx="475.69" cy="525.2" r="6.5" fill="#000" stroke="#d92c44" stroke-width="1.6"/><circle cx="475.69" cy="525.2" r="5.5" fill="#1565c0"/><circle cx="475.69" cy="525.2" r="3.25" fill="none" stroke="#f3d02f" stroke-width="1.2" stroke-dasharray="1.15 1.4025" stroke-dashoffset="0.57"/>
<circle cx="469.07" cy="525.2" r="6.5" fill="#000" stroke="#d92c44" stroke-width="1.6"/><circle cx="469.07" cy="525.2" r="5.5" fill="#1565c0"/><circle cx="469.07" cy="525.2" r="3.25" fill="none" stroke="#f3d02f" stroke-width="1.2" stroke-dasharray="1.15 1.4025" stroke-dashoffset="0.57"/>
<circle cx="462.46" cy="525.2" r="6.5" fill="#000" stroke="#d92c44" stroke-width="1.6"/><circle cx="462.46" cy="525.2" r="5.5" fill="#1565c0"/><circle cx="462.46" cy="525.2" r="3.25" fill="none" stroke="#f3d02f" stroke-width="1.2" stroke-dasharray="1.15 1.4025" stroke-dashoffset="0.57"/>
<circle cx="449.22" cy="525.2" r="6.5" fill="#000" stroke="#d92c44" stroke-width="1.6"/><circle cx="449.22" cy="525.2" r="5.5" fill="#1565c0"/><circle cx="449.22" cy="525.2" r="3.25" fill="none" stroke="#f3d02f" stroke-width="1.2" stroke-dasharray="1.15 1.4025" stroke-dashoffset="0.57"/>
<circle cx="435.99" cy="525.2" r="6.5" fill="#000" stroke="#d92c44" stroke-width="1.6"/><circle cx="435.99" cy="525.2" r="5.5" fill="#1565c0"/><circle cx="435.99" cy="525.2" r="3.25" fill="none" stroke="#f3d02f" stroke-width="1.2" stroke-dasharray="1.15 1.4025" stroke-dashoffset="0.57"/>
<circle cx="429.37" cy="525.2" r="6.5" fill="#000" stroke="#d92c44" stroke-width="1.6"/><circle cx="429.37" cy="525.2" r="5.5" fill="#1565c0"/><circle cx="429.37" cy="525.2" r="3.25" fill="none" stroke="#f3d02f" stroke-width="1.2" stroke-dasharray="1.15 1.4025" stroke-dashoffset="0.57"/>
<circle cx="402.90" cy="525.2" r="6.5" fill="#000" stroke="#d92c44" stroke-width="1.6"/><circle cx="402.90" cy="525.2" r="5.5" fill="#1565c0"/><circle cx="402.90" cy="525.2" r="3.25" fill="none" stroke="#f3d02f" stroke-width="1.2" stroke-dasharray="1.15 1.4025" stroke-dashoffset="0.57"/>
<circle cx="389.67" cy="525.2" r="6.5" fill="#000" stroke="#d92c44" stroke-width="1.6"/><circle cx="389.67" cy="525.2" r="5.5" fill="#1565c0"/><circle cx="389.67" cy="525.2" r="3.25" fill="none" stroke="#f3d02f" stroke-width="1.2" stroke-dasharray="1.15 1.4025" stroke-dashoffset="0.57"/>
<circle cx="356.58" cy="525.2" r="6.5" fill="#000" stroke="#d92c44" stroke-width="1.6"/><circle cx="356.58" cy="525.2" r="5.5" fill="#1565c0"/><circle cx="356.58" cy="525.2" r="3.25" fill="none" stroke="#f3d02f" stroke-width="1.2" stroke-dasharray="1.15 1.4025" stroke-dashoffset="0.57"/>
<circle cx="349.97" cy="525.2" r="6.5" fill="#000" stroke="#d92c44" stroke-width="1.6"/><circle cx="349.97" cy="525.2" r="5.5" fill="#1565c0"/><circle cx="349.97" cy="525.2" r="3.25" fill="none" stroke="#f3d02f" stroke-width="1.2" stroke-dasharray="1.15 1.4025" stroke-dashoffset="0.57"/>
<circle cx="343.35" cy="525.2" r="6.5" fill="#000" stroke="#d92c44" stroke-width="1.6"/><circle cx="343.35" cy="525.2" r="5.5" fill="#1565c0"/><circle cx="343.35" cy="525.2" r="3.25" fill="none" stroke="#f3d02f" stroke-width="1.2" stroke-dasharray="1.15 1.4025" stroke-dashoffset="0.57"/>
<circle cx="336.73" cy="525.2" r="6.5" fill="#000" stroke="#d92c44" stroke-width="1.6"/><circle cx="336.73" cy="525.2" r="5.5" fill="#1565c0"/><circle cx="336.73" cy="525.2" r="3.25" fill="none" stroke="#f3d02f" stroke-width="1.2" stroke-dasharray="1.15 1.4025" stroke-dashoffset="0.57"/>
<circle cx="277.18" cy="525.2" r="6.5" fill="#000" stroke="#d92c44" stroke-width="1.6"/><circle cx="277.18" cy="525.2" r="5.5" fill="#1565c0"/><circle cx="277.18" cy="525.2" r="3.25" fill="none" stroke="#f3d02f" stroke-width="1.2" stroke-dasharray="1.15 1.4025" stroke-dashoffset="0.57"/>
<circle cx="263.95" cy="525.2" r="6.5" fill="#000" stroke="#d92c44" stroke-width="1.6"/><circle cx="263.95" cy="525.2" r="5.5" fill="#1565c0"/><circle cx="263.95" cy="525.2" r="3.25" fill="none" stroke="#f3d02f" stroke-width="1.2" stroke-dasharray="1.15 1.4025" stroke-dashoffset="0.57"/>
<circle cx="257.33" cy="525.2" r="6.5" fill="#000" stroke="#d92c44" stroke-width="1.6"/><circle cx="257.33" cy="525.2" r="5.5" fill="#1565c0"/><circle cx="257.33" cy="525.2" r="3.25" fill="none" stroke="#f3d02f" stroke-width="1.2" stroke-dasharray="1.15 1.4025" stroke-dashoffset="0.57"/>
<circle cx="224.24" cy="525.2" r="6.5" fill="#000" stroke="#d92c44" stroke-width="1.6"/><circle cx="224.24" cy="525.2" r="5.5" fill="#1565c0"/><circle cx="224.24" cy="525.2" r="3.25" fill="none" stroke="#f3d02f" stroke-width="1.2" stroke-dasharray="1.15 1.4025" stroke-dashoffset="0.57"/>
<circle cx="211.01" cy="525.2" r="6.5" fill="#000" stroke="#d92c44" stroke-width="1.6"/><circle cx="211.01" cy="525.2" r="5.5" fill="#1565c0"/><circle cx="211.01" cy="525.2" r="3.25" fill="none" stroke="#f3d02f" stroke-width="1.2" stroke-dasharray="1.15 1.4025" stroke-dashoffset="0.57"/>
<circle cx="177.93" cy="525.2" r="6.5" fill="#000" stroke="#d92c44" stroke-width="1.6"/><circle cx="177.93" cy="525.2" r="5.5" fill="#1565c0"/><circle cx="177.93" cy="525.2" r="3.25" fill="none" stroke="#f3d02f" stroke-width="1.2" stroke-dasharray="1.15 1.4025" stroke-dashoffset="0.57"/>
<circle cx="171.31" cy="525.2" r="6.5" fill="#000" stroke="#d92c44" stroke-width="1.6"/><circle cx="171.31" cy="525.2" r="5.5" fill="#1565c0"/><circle cx="171.31" cy="525.2" r="3.25" fill="none" stroke="#f3d02f" stroke-width="1.2" stroke-dasharray="1.15 1.4025" stroke-dashoffset="0.57"/>
<circle cx="158.07" cy="525.2" r="6.5" fill="#000" stroke="#d92c44" stroke-width="1.6"/><circle cx="158.07" cy="525.2" r="5.5" fill="#1565c0"/><circle cx="158.07" cy="525.2" r="3.25" fill="none" stroke="#f3d02f" stroke-width="1.2" stroke-dasharray="1.15 1.4025" stroke-dashoffset="0.57"/>
<circle cx="151.46" cy="525.2" r="6.5" fill="#000" stroke="#d92c44" stroke-width="1.6"/><circle cx="151.46" cy="525.2" r="5.5" fill="#1565c0"/><circle cx="151.46" cy="525.2" r="3.25" fill="none" stroke="#f3d02f" stroke-width="1.2" stroke-dasharray="1.15 1.4025" stroke-dashoffset="0.57"/>
<circle cx="144.84" cy="525.2" r="6.5" fill="#000" stroke="#d92c44" stroke-width="1.6"/><circle cx="144.84" cy="525.2" r="5.5" fill="#1565c0"/><circle cx="144.84" cy="525.2" r="3.25" fill="none" stroke="#f3d02f" stroke-width="1.2" stroke-dasharray="1.15 1.4025" stroke-dashoffset="0.57"/>
<circle cx="91.90" cy="525.2" r="6.5" fill="#000" stroke="#d92c44" stroke-width="1.6"/><circle cx="91.90" cy="525.2" r="5.5" fill="#1565c0"/><circle cx="91.90" cy="525.2" r="3.25" fill="none" stroke="#f3d02f" stroke-width="1.2" stroke-dasharray="1.15 1.4025" stroke-dashoffset="0.57"/>
<circle cx="78.67" cy="525.2" r="6.5" fill="#000" stroke="#d92c44" stroke-width="1.6"/><circle cx="78.67" cy="525.2" r="5.5" fill="#1565c0"/><circle cx="78.67" cy="525.2" r="3.25" fill="none" stroke="#f3d02f" stroke-width="1.2" stroke-dasharray="1.15 1.4025" stroke-dashoffset="0.57"/>
<circle cx="32.35" cy="525.2" r="6.5" fill="#000" stroke="#d92c44" stroke-width="1.6"/><circle cx="32.35" cy="525.2" r="5.5" fill="#1565c0"/><circle cx="32.35" cy="525.2" r="3.25" fill="none" stroke="#f3d02f" stroke-width="1.2" stroke-dasharray="1.15 1.4025" stroke-dashoffset="0.57"/>
<circle cx="25.73" cy="525.2" r="6.5" fill="#000" stroke="#d92c44" stroke-width="1.6"/><circle cx="25.73" cy="525.2" r="5.5" fill="#1565c0"/><circle cx="25.73" cy="525.2" r="3.25" fill="none" stroke="#f3d02f" stroke-width="1.2" stroke-dasharray="1.15 1.4025" stroke-dashoffset="0.57"/>
<circle cx="19.12" cy="525.2" r="6.5" fill="#000" stroke="#d92c44" stroke-width="1.6"/><circle cx="19.12" cy="525.2" r="5.5" fill="#1565c0"/><circle cx="19.12" cy="525.2" r="3.25" fill="none" stroke="#f3d02f" stroke-width="1.2" stroke-dasharray="1.15 1.4025" stroke-dashoffset="0.57"/>
<circle cx="5.88" cy="525.2" r="6.5" fill="#000" stroke="#d92c44" stroke-width="1.6"/><circle cx="5.88" cy="525.2" r="5.5" fill="#1565c0"/><circle cx="5.88" cy="525.2" r="3.25" fill="none" stroke="#f3d02f" stroke-width="1.2" stroke-dasharray="1.15 1.4025" stroke-dashoffset="0.57"/>
</g>
<rect x="490.5" y="30" width="168.5" height="63" rx="2.5" fill="#1c7ad6"/>
<text y="48.2" font-size="12" fill="#fff" stroke="#fff" stroke-width="0.3"><tspan x="500.30" textLength="44.40" lengthAdjust="spacingAndGlyphs">304.012</tspan> <tspan x="550.80" textLength="48.40" lengthAdjust="spacingAndGlyphs">(19.02%)</tspan> <tspan x="604.20" textLength="44.50" lengthAdjust="spacingAndGlyphs">30401.2</tspan></text>
<text y="66.5" font-size="12" fill="#fff" stroke="#fff" stroke-width="0.3"><tspan x="539.50" textLength="12.50" lengthAdjust="spacingAndGlyphs">18</tspan> <tspan x="557.00" textLength="27.70" lengthAdjust="spacingAndGlyphs">bars,</tspan> <tspan x="590.00" textLength="19.70" lengthAdjust="spacingAndGlyphs">26d</tspan></text>
<text y="84.3" font-size="12" fill="#fff" stroke="#fff" stroke-width="0.3"><tspan x="544.20" textLength="16.60" lengthAdjust="spacingAndGlyphs">Vol</tspan> <tspan x="565.30" textLength="40.50" lengthAdjust="spacingAndGlyphs">8.962M</tspan></text>
<path d="M634.5 100L680 102.5H955.5a4 4 0 0 1 4 4V128.3a4 4 0 0 1 -4 4H683.5a4 4 0 0 1 -4 -4V109.5Z" fill="#006978"/>
<text y="122.0" font-size="14.6" fill="#fff" stroke="#fff" stroke-width="0.28"><tspan x="686.90" textLength="61.60" lengthAdjust="spacingAndGlyphs">Jelenlegi</tspan> <tspan x="754.50" textLength="76.20" lengthAdjust="spacingAndGlyphs">Történelmi</tspan> <tspan x="836.70" textLength="36.30" lengthAdjust="spacingAndGlyphs">csúcs</tspan> <tspan x="880.20" textLength="4.10" lengthAdjust="spacingAndGlyphs">-</tspan> <tspan x="889.90" textLength="62.10" lengthAdjust="spacingAndGlyphs">1902.484</tspan></text>
<path d="M118.0 240.0H363.5a13 13 0 0 1 13 13V266.5a13 13 0 0 1 -13 13H105.0V253.0a13 13 0 0 1 13 -13Z" fill="#153aa8" fill-opacity="0.45" stroke="#2450c8" stroke-opacity="0.6" stroke-width="1"/>
<text y="264.5" font-size="14.6" fill="#fff" stroke="#fff" stroke-width="0.28"><tspan x="113.30" textLength="53.20" lengthAdjust="spacingAndGlyphs">2020-as</tspan> <tspan x="172.00" textLength="75.40" lengthAdjust="spacingAndGlyphs">Történelmi</tspan> <tspan x="253.50" textLength="36.20" lengthAdjust="spacingAndGlyphs">csúcs</tspan> <tspan x="296.20" textLength="4.40" lengthAdjust="spacingAndGlyphs">-</tspan> <tspan x="306.60" textLength="61.60" lengthAdjust="spacingAndGlyphs">1749.426</tspan></text>
<path d="M164.0 348.0H263.5a13 13 0 0 1 13 13V374.5a13 13 0 0 1 -13 13H151.0V361.0a13 13 0 0 1 13 -13Z" fill="#153aa8" fill-opacity="0.45" stroke="#2450c8" stroke-opacity="0.6" stroke-width="1"/>
<text y="372.2" font-size="14.6" fill="#fff" stroke="#fff" stroke-width="0.28"><tspan x="159.50" textLength="71.75" lengthAdjust="spacingAndGlyphs">ellenállási</tspan> <tspan x="236.25" textLength="31.75" lengthAdjust="spacingAndGlyphs">szint</tspan></text>
<g fill="#c0646e" opacity="0.92"><rect x="567.5" y="218.0" width="27.5" height="29.5" rx="5"/>
<path d="M594.9 239.6L607.5 274.2L587.5 247.4Z"/></g>
<text x="574.7" y="236.8" font-size="14.6" fill="#fff" textLength="12.0" lengthAdjust="spacingAndGlyphs" stroke="#fff" stroke-width="0.28">3.</text>
<g fill="#c0646e" opacity="0.92"><rect x="528.0" y="277.5" width="27.3" height="28.8" rx="5"/>
<path d="M555.2 300.3L588.3 330.0L548.3 306.2Z"/></g>
<text x="535.0" y="296.8" font-size="14.6" fill="#fff" textLength="12.5" lengthAdjust="spacingAndGlyphs" stroke="#fff" stroke-width="0.28">2.</text>
<g fill="#c0646e" opacity="0.92"><rect x="488.3" y="342.5" width="27.2" height="28.8" rx="5"/>
<path d="M515.4 366.3L535.3 382.0L509.0 371.2Z"/></g>
<text x="495.8" y="361.8" font-size="14.6" fill="#fff" textLength="11.7" lengthAdjust="spacingAndGlyphs" stroke="#fff" stroke-width="0.28">1.</text>
<text x="1155.9" y="36.8" font-size="8.5" fill="#c6c9d1" textLength="31.3" lengthAdjust="spacingAndGlyphs">1960.000</text>
<text x="1155.9" y="59.7" font-size="8.5" fill="#c6c9d1" textLength="31.3" lengthAdjust="spacingAndGlyphs">1940.000</text>
<text x="1155.9" y="82.6" font-size="8.5" fill="#c6c9d1" textLength="31.3" lengthAdjust="spacingAndGlyphs">1920.000</text>
<text x="1155.9" y="128.3" font-size="8.5" fill="#c6c9d1" textLength="31.3" lengthAdjust="spacingAndGlyphs">1880.000</text>
<text x="1155.9" y="151.2" font-size="8.5" fill="#c6c9d1" textLength="31.3" lengthAdjust="spacingAndGlyphs">1860.000</text>
<text x="1155.9" y="174.1" font-size="8.5" fill="#c6c9d1" textLength="31.3" lengthAdjust="spacingAndGlyphs">1840.000</text>
<text x="1155.9" y="197.0" font-size="8.5" fill="#c6c9d1" textLength="31.3" lengthAdjust="spacingAndGlyphs">1820.000</text>
<text x="1155.9" y="219.9" font-size="8.5" fill="#c6c9d1" textLength="31.3" lengthAdjust="spacingAndGlyphs">1800.000</text>
<text x="1155.9" y="242.7" font-size="8.5" fill="#c6c9d1" textLength="31.3" lengthAdjust="spacingAndGlyphs">1780.000</text>
<text x="1155.9" y="265.6" font-size="8.5" fill="#c6c9d1" textLength="31.3" lengthAdjust="spacingAndGlyphs">1760.000</text>
<text x="1155.9" y="288.5" font-size="8.5" fill="#c6c9d1" textLength="31.3" lengthAdjust="spacingAndGlyphs">1740.000</text>
<text x="1155.9" y="334.3" font-size="8.5" fill="#c6c9d1" textLength="31.3" lengthAdjust="spacingAndGlyphs">1700.000</text>
<text x="1155.9" y="357.1" font-size="8.5" fill="#c6c9d1" textLength="31.3" lengthAdjust="spacingAndGlyphs">1680.000</text>
<text x="1155.9" y="380.0" font-size="8.5" fill="#c6c9d1" textLength="31.3" lengthAdjust="spacingAndGlyphs">1660.000</text>
<text x="1155.9" y="402.9" font-size="8.5" fill="#c6c9d1" textLength="31.3" lengthAdjust="spacingAndGlyphs">1640.000</text>
<text x="1155.9" y="425.8" font-size="8.5" fill="#c6c9d1" textLength="31.3" lengthAdjust="spacingAndGlyphs">1620.000</text>
<text x="1155.9" y="448.7" font-size="8.5" fill="#c6c9d1" textLength="31.3" lengthAdjust="spacingAndGlyphs">1600.000</text>
<text x="1155.9" y="471.5" font-size="8.5" fill="#c6c9d1" textLength="31.3" lengthAdjust="spacingAndGlyphs">1580.000</text>
<text x="1155.9" y="494.4" font-size="8.5" fill="#c6c9d1" textLength="31.3" lengthAdjust="spacingAndGlyphs">1560.000</text>
<text x="1155.9" y="517.3" font-size="8.5" fill="#c6c9d1" textLength="31.3" lengthAdjust="spacingAndGlyphs">1540.000</text>
<rect x="1150" y="95.1" width="40.7" height="10.5" fill="#f23645"/>
<text x="1155.9" y="103.2" font-size="8.5" fill="#fff" textLength="31.0" lengthAdjust="spacingAndGlyphs">1902.484</text>
<rect x="1115.5" y="270.8" width="35" height="10.9" fill="#1f8a80"/>
<rect x="1115.5" y="270.8" width="33.6" height="10.9" fill="#26a69a"/>
<text x="1118.0" y="279.6" font-size="8" fill="#fff" textLength="28.6" lengthAdjust="spacingAndGlyphs">XAUEUR</text>
<rect x="1150" y="270.8" width="40.8" height="10.9" fill="#26a69a"/>
<text x="1155.9" y="279.5" font-size="8.5" fill="#fff" textLength="30.8" lengthAdjust="spacingAndGlyphs">1747.963</text>
<rect x="1150.5" y="301.2" width="40" height="10.2" rx="1.5" fill="#000" stroke="#e0483f" stroke-width="1"/>
<text x="1155.9" y="309.2" font-size="8.5" fill="#ef5350" textLength="30.8" lengthAdjust="spacingAndGlyphs">1722.437</text>
<text x="39.0" y="545.5" font-size="8" fill="#d1d4dc" text-anchor="middle">Nov</text>
<text x="105.1" y="545.5" font-size="8" fill="#d1d4dc" text-anchor="middle">15</text>
<text x="184.5" y="545.5" font-size="8" fill="#d1d4dc" text-anchor="middle">Dec</text>
<text x="237.5" y="545.5" font-size="8" fill="#d1d4dc" text-anchor="middle">13</text>
<text x="330.1" y="545.5" font-size="8" fill="#d1d4dc" text-anchor="middle">2022</text>
<text x="396.3" y="545.5" font-size="8" fill="#d1d4dc" text-anchor="middle">17</text>
<text x="469.1" y="545.5" font-size="8" fill="#d1d4dc" text-anchor="middle">Feb</text>
<text x="528.6" y="545.5" font-size="8" fill="#d1d4dc" text-anchor="middle">14</text>
<text x="601.4" y="545.5" font-size="8" fill="#d1d4dc" text-anchor="middle">Mar</text>
<text x="661.0" y="545.5" font-size="8" fill="#d1d4dc" text-anchor="middle">14</text>
<text x="753.6" y="545.5" font-size="8" fill="#d1d4dc" text-anchor="middle">Apr</text>
<text x="819.8" y="545.5" font-size="8" fill="#d1d4dc" text-anchor="middle">18</text>
<text x="885.9" y="545.5" font-size="8" fill="#d1d4dc" text-anchor="middle">May</text>
<text x="952.1" y="545.5" font-size="8" fill="#d1d4dc" text-anchor="middle">16</text>
<text x="1031.5" y="545.5" font-size="8" fill="#d1d4dc" text-anchor="middle">Jun</text>
<text x="1084.5" y="545.5" font-size="8" fill="#d1d4dc" text-anchor="middle">13</text>
<path d="M6.3 560H11.9V566.3H8.8V563H6.3Z M12.8 560.9a1.05 1.05 0 1 0 2.1 0a1.05 1.05 0 1 0 -2.1 0Z M15.6 560H18.9L16 566.3H12.8Z" fill="#d9dbe2"/>
<text x="21.7" y="566.3" font-size="8.6" fill="#d1d4dc" textLength="46.0" lengthAdjust="spacingAndGlyphs" font-weight="bold">TradingView</text>
</svg></body></html>
